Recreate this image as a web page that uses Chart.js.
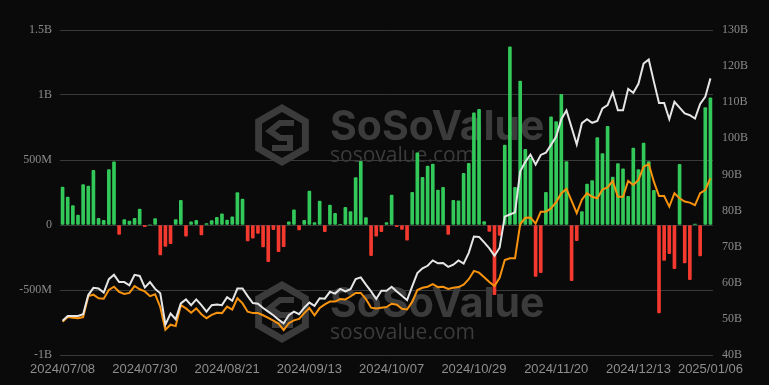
<!DOCTYPE html>
<html>
<head>
<meta charset="utf-8">
<script src="https://cdn.jsdelivr.net/npm/chart.js@4.4.1/dist/chart.umd.min.js"></script>
<style>
  html, body { margin: 0; padding: 0; background: #0a0a0a; }
  #wrap { width: 769px; height: 385px; position: relative; }
</style>
</head>
<body>
<div id="wrap"><canvas id="flowChart"></canvas></div>
<script>
// trading days shown on the x axis
var dates = [
  '2024/07/08','2024/07/09','2024/07/10','2024/07/11','2024/07/12','2024/07/15','2024/07/16','2024/07/17','2024/07/18','2024/07/19',
  '2024/07/22','2024/07/23','2024/07/24','2024/07/25','2024/07/26','2024/07/29','2024/07/30','2024/07/31','2024/08/01','2024/08/02',
  '2024/08/05','2024/08/06','2024/08/07','2024/08/08','2024/08/09','2024/08/12','2024/08/13','2024/08/14','2024/08/15','2024/08/16',
  '2024/08/19','2024/08/20','2024/08/21','2024/08/22','2024/08/23','2024/08/26','2024/08/27','2024/08/28','2024/08/29','2024/08/30',
  '2024/09/03','2024/09/04','2024/09/05','2024/09/06','2024/09/09','2024/09/10','2024/09/11','2024/09/12','2024/09/13','2024/09/16',
  '2024/09/17','2024/09/18','2024/09/19','2024/09/20','2024/09/23','2024/09/24','2024/09/25','2024/09/26','2024/09/27','2024/09/30',
  '2024/10/01','2024/10/02','2024/10/03','2024/10/04','2024/10/07','2024/10/08','2024/10/09','2024/10/10','2024/10/11','2024/10/14',
  '2024/10/15','2024/10/16','2024/10/17','2024/10/18','2024/10/21','2024/10/22','2024/10/23','2024/10/24','2024/10/25','2024/10/28',
  '2024/10/29','2024/10/30','2024/10/31','2024/11/01','2024/11/04','2024/11/05','2024/11/06','2024/11/07','2024/11/08','2024/11/11',
  '2024/11/12','2024/11/13','2024/11/14','2024/11/15','2024/11/18','2024/11/19','2024/11/20','2024/11/21','2024/11/22','2024/11/25',
  '2024/11/26','2024/11/27','2024/11/29','2024/12/02','2024/12/03','2024/12/04','2024/12/05','2024/12/06','2024/12/09','2024/12/10',
  '2024/12/11','2024/12/12','2024/12/13','2024/12/16','2024/12/17','2024/12/18','2024/12/19','2024/12/20','2024/12/23','2024/12/24',
  '2024/12/26','2024/12/27','2024/12/30','2024/12/31','2025/01/02','2025/01/03','2025/01/06'
];

// daily net inflow, millions USD (left axis)
var netInflow = [
  292, 215, 149, 77, 310, 300, 420, 51, 36, 426,
  485, -72, 41, 31, 51, 123, -13, 0, 49, -231,
  -164, -144, 41, 190, -86, 24, 35, -77, 10, 34,
  59, 85, 37, 63, 250, 199, -122, -102, -65, -169,
  -282, -36, -206, -166, 25, 117, -38, 35, 261, 18,
  184, -52, 154, 90, 5, 135, 103, 365, 490, 58,
  -235, -85, -52, 19, 230, -12, -34, -116, 251, 555,
  366, 454, 468, 268, 290, -72, 190, 185, 398, 475,
  863, 889, 26, -50, -536, -80, 615, 1370, 290, 1108,
  582, 513, -395, -366, 251, 833, 795, 1005, 487, -428,
  -120, 103, 315, 341, 673, 550, 759, 369, 472, 433,
  221, 592, 426, 631, 487, 267, -677, -272, -221, -336,
  467, -292, -421, 8, -238, 903, 979
];

// white line, billions USD (right axis)
var totalNetAssets = [
  49.5, 50.8, 50.8, 50.8, 51.3, 56.6, 58.6, 58.4, 57.3, 61.0,
  62.2, 60.2, 60.2, 59.3, 62.2, 61.9, 58.7, 60.2, 58.3, 57.1,
  48.4, 51.5, 49.9, 54.3, 55.4, 53.8, 55.4, 53.8, 52.0, 53.8,
  54.0, 53.8, 56.0, 55.0, 58.4, 58.4, 56.3, 54.4, 54.2, 53.0,
  52.0, 51.0, 49.8, 48.8, 51.0, 52.0, 51.3, 53.1, 54.5, 53.6,
  55.7, 55.6, 57.5, 57.0, 58.3, 57.6, 58.2, 61.0, 61.5, 59.5,
  57.6, 55.5, 57.8, 57.8, 58.9, 57.6, 56.4, 55.2, 59.0, 62.7,
  64.0, 64.7, 66.2, 65.4, 65.5, 64.4, 65.0, 66.2, 65.3, 68.3,
  72.8, 72.7, 71.2, 69.5, 67.5, 69.7, 78.3, 78.9, 79.5, 90.8,
  93.5, 95.5, 92.7, 95.4, 96.0, 98.2, 100.5, 105.3, 107.7, 103.0,
  98.3, 104.2, 105.3, 104.3, 104.8, 108.3, 109.2, 112.7, 107.8, 107.8,
  113.7, 112.6, 115.1, 120.7, 121.8, 115.7, 109.8, 109.8, 105.3, 110.1,
  108.5, 106.9, 106.4, 105.5, 109.5, 111.5, 116.6
];

// orange line, billions USD (right axis)
var orangeSeries = [
  49.2, 50.5, 50.3, 50.2, 50.5, 56.3, 56.7, 55.7, 55.6, 58.0,
  58.9, 57.5, 56.9, 57.2, 59.1, 58.2, 57.6, 56.3, 56.8, 53.3,
  47.0, 48.4, 48.0, 53.8, 52.9, 51.7, 52.9, 51.3, 50.2, 51.1,
  51.7, 51.6, 53.4, 52.6, 55.7, 54.3, 52.0, 51.6, 51.6, 51.0,
  50.3, 49.5, 48.7, 46.9, 48.8, 49.6, 50.0, 51.6, 53.0, 51.0,
  53.0, 54.0, 54.8, 54.8, 55.5, 55.4, 56.2, 57.2, 57.2, 55.5,
  53.1, 52.9, 53.1, 53.3, 54.2, 53.9, 52.8, 52.6, 54.7, 58.0,
  58.6, 58.9, 59.6, 58.8, 58.9, 58.3, 58.6, 58.8, 59.5, 61.0,
  63.3, 62.8, 61.5, 60.2, 59.1, 61.4, 66.3, 66.8, 66.8, 76.2,
  78.0, 78.1, 76.4, 79.7, 79.7, 80.6, 82.3, 84.8, 86.0, 82.7,
  79.3, 83.0, 84.8, 83.8, 83.4, 85.8, 86.4, 88.2, 83.8, 83.8,
  88.2, 87.1, 88.5, 92.1, 92.9, 88.0, 84.0, 84.0, 81.1, 84.8,
  83.4, 82.5, 82.2, 81.5, 84.8, 85.7, 89.0
];

var tickEvery = 16;

// watermark drawn under the marks
var watermarkPlugin = {
  id: 'watermark',
  beforeDatasetsDraw: function(chart) {
    var ctx = chart.ctx;
    ctx.save();
    drawMark(ctx, 282, 135, 140, 162);
    drawMark(ctx, 282, 312, 317, 339);
    ctx.restore();
  }
};

function drawMark(ctx, cx, cy, titleY, urlY) {
  var col = '#3b3b3b';
  var r = 31;
  ctx.beginPath();
  for (var k = 0; k < 6; k++) {
    var a = Math.PI / 180 * (60 * k - 90);
    var px = cx + r * Math.cos(a), py = cy + r * Math.sin(a);
    if (k === 0) ctx.moveTo(px, py); else ctx.lineTo(px, py);
  }
  ctx.closePath();
  ctx.fillStyle = col;
  ctx.fill();
  // inner cut-out
  var ri = 23;
  ctx.beginPath();
  for (var j = 0; j < 6; j++) {
    var b = Math.PI / 180 * (60 * j - 90);
    var qx = cx + ri * Math.cos(b), qy = cy + ri * Math.sin(b);
    if (j === 0) ctx.moveTo(qx, qy); else ctx.lineTo(qx, qy);
  }
  ctx.closePath();
  ctx.fillStyle = '#0a0a0a';
  ctx.fill();
  // rough S figure inside
  ctx.strokeStyle = col;
  ctx.lineWidth = 6;
  ctx.lineJoin = 'miter';
  ctx.beginPath();
  ctx.moveTo(cx + 12, cy - 12);
  ctx.lineTo(cx - 2, cy - 12);
  ctx.lineTo(cx - 12, cy - 4);
  ctx.lineTo(cx - 2, cy + 3);
  ctx.lineTo(cx + 8, cy + 3);
  ctx.lineTo(cx + 8, cy + 13);
  ctx.lineTo(cx - 10, cy + 13);
  ctx.stroke();

  ctx.fillStyle = col;
  ctx.textAlign = 'left';
  ctx.textBaseline = 'alphabetic';
  ctx.font = 'bold 41px Inter';
  ctx.fillText('SoSoValue', 330, titleY);
  ctx.font = '21px "Open Sans"';
  ctx.fillText('sosovalue.com', 330, urlY);
}

document.addEventListener('DOMContentLoaded', function() {

  var barColors = netInflow.map(function(v) {
    return v >= 0 ? '#32c95a' : '#f4392f';
  });

  var ctx = document.getElementById('flowChart').getContext('2d');

  new Chart(ctx, {
    type: 'bar',
    data: {
      labels: dates,
      datasets: [
        {
          type: 'line',
          data: totalNetAssets,
          yAxisID: 'y1',
          borderColor: '#e6e6e6',
          borderWidth: 2,
          pointRadius: 0,
          tension: 0,
          order: 0
        },
        {
          type: 'line',
          data: orangeSeries,
          yAxisID: 'y1',
          borderColor: '#f7930f',
          borderWidth: 2,
          pointRadius: 0,
          tension: 0,
          order: 1
        },
        {
          type: 'bar',
          data: netInflow,
          yAxisID: 'y',
          backgroundColor: barColors,
          barThickness: 3,
          borderRadius: 1,
          borderSkipped: false,
          order: 2
        }
      ]
    },
    options: {
      responsive: true,
      maintainAspectRatio: false,
      animation: false,
      layout: { padding: { top: 30, left: 0, right: 0, bottom: 0 } },
      plugins: {
        legend: { display: false },
        tooltip: { enabled: false }
      },
      scales: {
        x: {
          offset: true,
          grid: { display: false, drawTicks: false },
          border: { display: false },
          ticks: {
            autoSkip: false,
            maxRotation: 0,
            padding: 7,
            color: '#8e8e8e',
            font: { family: '"Liberation Sans", Arial, sans-serif', size: 13 },
            callback: function(val, index) {
              if (index % tickEvery === 0 || index === dates.length - 1) {
                return dates[index];
              }
              return '';
            }
          },
          afterFit: function(scale) { scale.height = 30; }
        },
        y: {
          position: 'left',
          min: -1000,
          max: 1500,
          grid: { color: '#3a3a3a', drawTicks: false, lineWidth: 1 },
          border: { display: false },
          ticks: {
            stepSize: 500,
            padding: 8,
            color: '#8a8a8a',
            font: { family: '"Liberation Serif", serif', size: 12 },
            callback: function(v) {
              if (v === 0) return '0';
              if (Math.abs(v) >= 1000) return (v / 1000) + 'B';
              return v + 'M';
            }
          },
          afterFit: function(scale) { scale.width = 60; }
        },
        y1: {
          position: 'right',
          min: 40,
          max: 130,
          grid: { display: false, drawTicks: false },
          border: { display: false },
          ticks: {
            stepSize: 10,
            padding: 9,
            color: '#8a8a8a',
            font: { family: '"Liberation Serif", serif', size: 12 },
            callback: function(v) { return v + 'B'; }
          },
          afterFit: function(scale) { scale.width = 56; }
        }
      }
    },
    plugins: [watermarkPlugin]
  });

});
</script>
</body>
</html>
